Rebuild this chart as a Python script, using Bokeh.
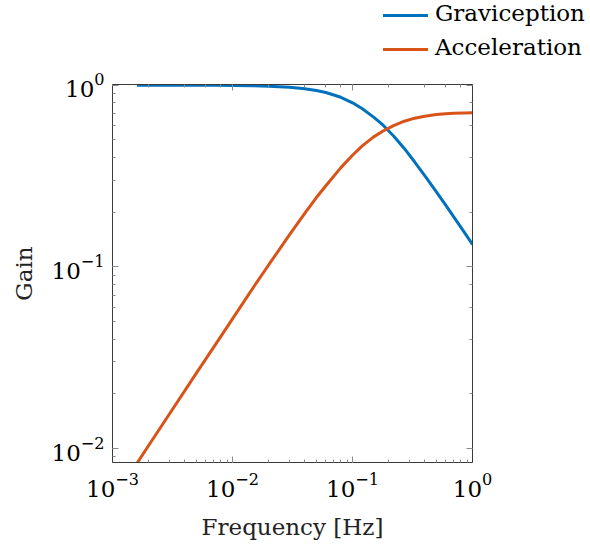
from bokeh.plotting import figure
from bokeh.layouts import column
from bokeh.models import LogAxis, Range1d, Div
from bokeh.embed import file_html
from bokeh.resources import INLINE

# Frequency response of the two channels (log-log)
freq_hz = [0.0016, 0.002, 0.003, 0.005, 0.007, 0.01, 0.015, 0.02, 0.03, 0.04,
           0.05, 0.06, 0.08, 0.1, 0.12, 0.15, 0.18, 0.22, 0.27, 0.33,
           0.4, 0.5, 0.6, 0.7, 0.85, 1.0]
graviception_gain = [1.0, 1.0, 1.0, 0.999, 0.999, 0.997, 0.994, 0.989, 0.976, 0.958,
                     0.937, 0.913, 0.859, 0.801, 0.745, 0.668, 0.603, 0.526, 0.449, 0.378,
                     0.318, 0.259, 0.218, 0.188, 0.156, 0.133]
acceleration_gain = [0.0083, 0.0104, 0.0156, 0.026, 0.0363, 0.0518, 0.0775, 0.1025, 0.151, 0.197,
                     0.241, 0.280, 0.352, 0.412, 0.462, 0.52, 0.560, 0.600, 0.634, 0.659,
                     0.676, 0.690, 0.697, 0.701, 0.704, 0.706]

series_names = ["Graviception", "Acceleration"]
series_colors = ["#0072BD", "#D95319"]

FONT = "DejaVu Serif"
FONT_SIZE = "23px"

# ---- main log-log plot ----
p = figure(width=590, height=480, x_axis_type="log", y_axis_type="log",
           x_range=Range1d(1e-3, 1.0), y_range=Range1d(0.00838, 1.01),
           output_backend="svg", toolbar_location=None, tools="",
           min_border_left=112, min_border_right=118,
           min_border_top=20, min_border_bottom=82)

p.xgrid.visible = False
p.ygrid.visible = False
p.outline_line_color = "#3a3a3a"
p.outline_line_width = 1
p.background_fill_color = "white"
p.border_fill_color = "white"


def style_axis(ax, labels=True):
    ax.axis_line_color = "#3a3a3a"
    ax.major_tick_in = 6
    ax.major_tick_out = 0
    ax.minor_tick_in = 3
    ax.minor_tick_out = 0
    ax.major_tick_line_color = "#8a8a8a"
    ax.minor_tick_line_color = "#8a8a8a"
    ax.major_label_text_font = FONT
    ax.major_label_text_color = "black"
    ax.axis_label_text_font = FONT
    ax.axis_label_text_font_size = FONT_SIZE
    ax.axis_label_text_font_style = "normal"
    ax.axis_label_text_color = "#222222"
    if labels:
        ax.major_label_text_font_size = FONT_SIZE
    else:
        ax.major_label_text_font_size = "0px"
        ax.major_label_text_alpha = 0
        ax.major_label_standoff = 0


style_axis(p.xaxis[0])
style_axis(p.yaxis[0])
p.xaxis[0].axis_label = "Frequency [Hz]"
p.yaxis[0].axis_label = "Gain"
p.xaxis[0].major_label_standoff = 10
p.yaxis[0].major_label_standoff = 8
p.xaxis[0].axis_label_standoff = 14
p.yaxis[0].axis_label_standoff = 12

# mirrored ticks on the top and right edges
top_axis = LogAxis()
right_axis = LogAxis()
style_axis(top_axis, labels=False)
style_axis(right_axis, labels=False)
p.add_layout(top_axis, "above")
p.add_layout(right_axis, "right")

p.line(freq_hz, graviception_gain, line_color=series_colors[0], line_width=3)
p.line(freq_hz, acceleration_gain, line_color=series_colors[1], line_width=3)

# ---- legend strip above the plot, as plain HTML ----
row_tops = [0, 34]
entries = []
for name, color, top in zip(series_names, series_colors, row_tops):
    entries.append(
        f'<div style="position:absolute;left:383px;top:{top + 14}px;width:45px;height:3px;'
        f'background:{color};"></div>'
        f'<div style="position:absolute;left:435px;top:{top + 2}px;font-family:\'{FONT}\';'
        f'font-size:{FONT_SIZE};line-height:23px;color:black;white-space:nowrap;">{name}</div>'
    )
legend_html = ('<div style="position:relative;width:590px;height:64px;margin:0;padding:0;">'
               + "".join(entries) + "</div>")
legend_div = Div(text=legend_html, width=590, height=64, margin=(0, 0, 0, 0))

layout = column(legend_div, p, spacing=0)
open("out.html", "w").write(file_html(layout, INLINE))
